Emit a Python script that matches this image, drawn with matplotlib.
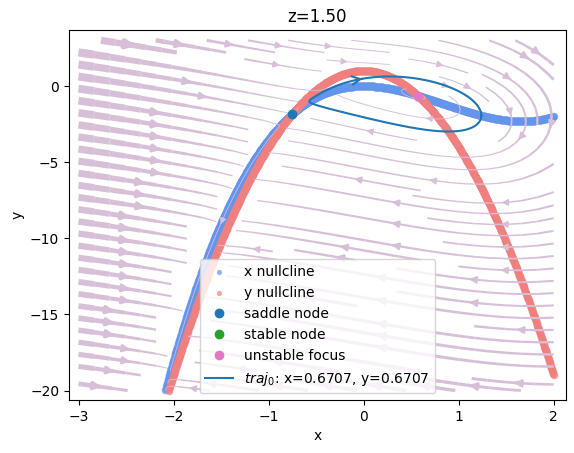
import numpy as np
import matplotlib.pyplot as plt

# Hindmarsh-Rose fast subsystem, z held fixed
a, b, c, d = 1.0, 2.5, 1.0, 5.0
I_ext = 1.5
z = 1.5
x0, y0 = 0.6707, 0.6707

x_range = (-3, 2)
y_range = (-20, 3)


def field(x, y):
    dx = y - a * x**3 + b * x**2 + I_ext - z
    dy = c - d * x**2 - y
    return dx, dy


def rk4(p, dt, n):
    out = [p]
    for _ in range(n):
        k1 = np.array(field(*p))
        k2 = np.array(field(*(p + dt / 2 * k1)))
        k3 = np.array(field(*(p + dt / 2 * k2)))
        k4 = np.array(field(*(p + dt * k3)))
        p = p + dt / 6 * (k1 + 2 * k2 + 2 * k3 + k4)
        out.append(p)
    return np.array(out)


def add_arrow(line, size=15):
    # arrow on the upper (rightward) branch, near the mean x of the curve
    xdata, ydata = line.get_xdata(), line.get_ydata()
    moving_right = np.append(np.diff(xdata) > 0, False)
    dist = np.where(moving_right, np.abs(xdata - xdata.mean()), np.inf)
    i = np.argmin(dist)
    line.axes.annotate('', xytext=(xdata[i], ydata[i]), xy=(xdata[i + 1], ydata[i + 1]),
                       arrowprops=dict(arrowstyle='->', color=line.get_color(), lw=1.5),
                       size=size)


fig = plt.figure(figsize=(5.74, 4.53), dpi=100)
ax = fig.add_axes([69 / 574, 53 / 453, 497 / 574, 370 / 453])

# vector field
xs = np.linspace(*x_range, 200)
ys = np.linspace(*y_range, 200)
X, Y = np.meshgrid(xs, ys)
U, V = field(X, Y)
speed = np.hypot(U, V)
ax.streamplot(X, Y, U, V, color='thistle', density=1.0,
              linewidth=0.5 + 5.5 * speed / speed.max())

# nullclines
xn = np.linspace(*x_range, 1500)
yx = a * xn**3 - b * xn**2 - I_ext + z
yy = c - d * xn**2
mx = (yx >= y_range[0]) & (yx <= y_range[1])
my = (yy >= y_range[0]) & (yy <= y_range[1])
ax.scatter(xn[mx], yx[mx], s=30, color='cornflowerblue', alpha=0.7, lw=0, label='x nullcline')
ax.scatter(xn[my], yy[my], s=30, color='lightcoral', alpha=0.7, lw=0, label='y nullcline')

# fixed points
roots = np.roots([a, d - b, 0, z - I_ext - c])
eq_x = np.sort(roots[np.isreal(roots)].real)
eq_y = c - d * eq_x**2
kinds = []
for ex in eq_x:
    J = np.array([[-3 * a * ex**2 + 2 * b * ex, 1], [-2 * d * ex, -1]])
    tr, det = np.trace(J), np.linalg.det(J)
    kinds.append('saddle' if det < 0 else ('stable' if tr < 0 else 'unstable'))
kinds = np.array(kinds)
ax.plot(eq_x[kinds == 'saddle'], eq_y[kinds == 'saddle'], 'o', color='tab:blue',
        label='saddle node', zorder=4)
ax.plot(eq_x[kinds == 'stable'], eq_y[kinds == 'stable'], 'o', color='tab:green',
        label='stable node', zorder=4)
ax.plot(eq_x[kinds == 'unstable'], eq_y[kinds == 'unstable'], 'o', color='tab:pink',
        label='unstable focus', zorder=4)

# limit cycle reached from the initial point: last period between two x maxima
traj = rk4(np.array([x0, y0]), 0.01, 10000)
xt = traj[:, 0]
peaks = np.where((xt[1:-1] > xt[:-2]) & (xt[1:-1] >= xt[2:]))[0] + 1
cycle = traj[peaks[-2]:peaks[-1] + 1]
line, = ax.plot(cycle[:, 0], cycle[:, 1], color='tab:blue',
                label=f'$traj_0$: x={x0:.4f}, y={y0:.4f}')
add_arrow(line)

ax.set_xlim(-3.1, 2.13)
ax.set_ylim(-20.62, 3.68)
ax.set_xlabel('x')
ax.set_ylabel('y')
ax.set_title(f'z={z:.2f}')
leg = ax.legend(loc='lower center')
for h in leg.legend_handles[:2]:
    h.set_sizes([14])

fig.savefig('out.png')
